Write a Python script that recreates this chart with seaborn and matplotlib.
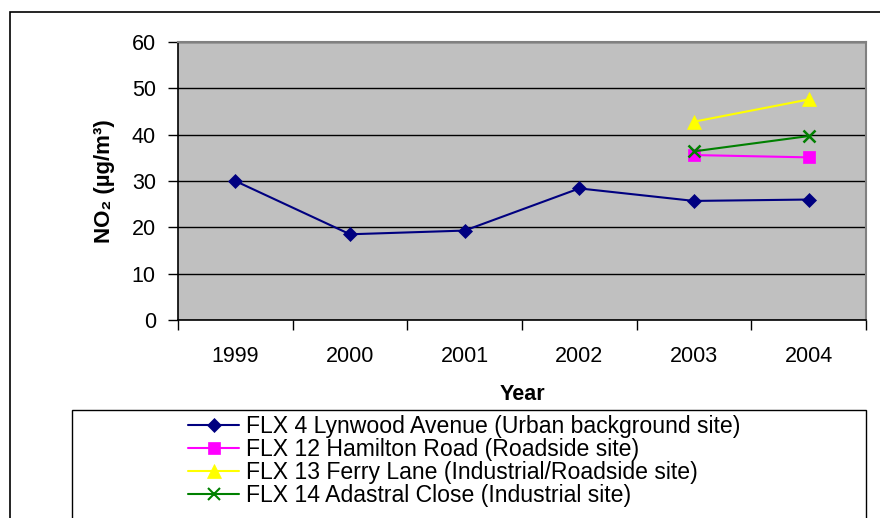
import matplotlib
matplotlib.use("Agg")
import matplotlib.pyplot as plt
from matplotlib.patches import Rectangle
from matplotlib.lines import Line2D
import seaborn as sns
import pandas as pd

# NO2 annual means by site (µg/m3)
years = [1999, 2000, 2001, 2002, 2003, 2004]
flx4_years = [1999, 2000, 2001, 2002, 2003, 2004]
flx4_values = [30.0, 18.5, 19.3, 28.4, 25.7, 26.0]
flx12_years = [2003, 2004]
flx12_values = [35.6, 35.1]
flx13_years = [2003, 2004]
flx13_values = [42.8, 47.6]
flx14_years = [2003, 2004]
flx14_values = [36.4, 39.7]
site_names = [
    "FLX 4 Lynwood Avenue (Urban background site)",
    "FLX 12 Hamilton Road (Roadside site)",
    "FLX 13 Ferry Lane (Industrial/Roadside site)",
    "FLX 14 Adastral Close (Industrial site)",
]

sns.set_theme(style="white")
plt.rcParams["font.family"] = ["Liberation Sans", "DejaVu Sans"]
plt.rcParams["text.color"] = "black"

frames = []
for name, xs, vs in zip(site_names,
                        [flx4_years, flx12_years, flx13_years, flx14_years],
                        [flx4_values, flx12_values, flx13_values, flx14_values]):
    frames.append(pd.DataFrame({"Year": xs, "NO2": vs, "Site": name}))
df = pd.concat(frames, ignore_index=True)

colors = ["#000080", "#FF00FF", "#FFFF00", "#008000"]
markers = ["D", "s", "^", "x"]
msizes = [7, 8.5, 9.5, 9]

fig = plt.figure(figsize=(8.8, 5.18), dpi=100)
fig.patch.set_facecolor("white")

# outer chart frame
fig.patches.append(Rectangle((10 / 880, -0.1), 1.2, 1 - 12 / 518 + 0.1,
                             transform=fig.transFigure, fill=False,
                             edgecolor="black", linewidth=1.2, zorder=0))

ax = fig.add_axes([178 / 880, 1 - 320 / 518, 688 / 880, 278 / 518])
ax.set_facecolor("#C0C0C0")

for i, name in enumerate(site_names):
    sub = df[df["Site"] == name]
    sns.lineplot(data=sub, x="Year", y="NO2", ax=ax, color=colors[i],
                 marker=markers[i], markersize=msizes[i], linewidth=1.5,
                 markeredgecolor=colors[i],
                 markeredgewidth=1.8 if markers[i] == "x" else 0.5,
                 legend=False, zorder=3)

ax.set_ylim(0, 60)
ax.set_yticks(range(0, 61, 10))
ax.yaxis.grid(True, color="black", linewidth=1)
ax.set_axisbelow(True)
ax.set_xlim(years[0] - 0.5, years[-1] + 0.5)
ax.set_xticks([y - 0.5 for y in years] + [years[-1] + 0.5])
ax.set_xticklabels([])
ax.set_xticks(years, minor=True)
ax.set_xticklabels([str(y) for y in years], minor=True)
ax.tick_params(axis="x", which="major", bottom=True, direction="out",
               length=7, width=1, color="black")
ax.tick_params(axis="x", which="minor", bottom=True, length=0, pad=19,
               labelsize=15.5, labelcolor="black")
ax.tick_params(axis="y", left=True, direction="out", length=7, width=1,
               color="black", labelsize=15.5, pad=9, labelcolor="black")

for side in ["left", "bottom"]:
    ax.spines[side].set_color("black")
    ax.spines[side].set_linewidth(1.2)
for side in ["top", "right"]:
    ax.spines[side].set_color("#808080")
    ax.spines[side].set_linewidth(1.5)

ax.set_xlabel("Year", fontsize=15.5, fontweight="bold", labelpad=12,
              color="black")
ax.set_ylabel("NO₂ (µg/m³)", fontsize=16, fontweight="bold", labelpad=12,
              color="black")

# legend box
fig.patches.append(Rectangle((72 / 880, -0.1), (866 - 72) / 880,
                             1 - 410 / 518 + 0.1, transform=fig.transFigure,
                             facecolor="white", edgecolor="black",
                             linewidth=1, zorder=1))
handles = [Line2D([], [], color=c, marker=m, markersize=ms,
                  markeredgecolor=c, markeredgewidth=1.5 if m == "x" else 0.5,
                  linewidth=1.5)
           for c, m, ms in zip(colors, markers, msizes)]
leg = fig.legend(handles, site_names, loc="upper left",
                 bbox_to_anchor=(186 / 880, 1 - 413 / 518),
                 frameon=False, fontsize=16.6, handlelength=2.2,
                 handletextpad=0.3, labelspacing=0.0, borderpad=0.1,
                 borderaxespad=0, labelcolor="black")
leg.set_zorder(2)

fig.savefig("out.png", dpi=100, facecolor="white")
